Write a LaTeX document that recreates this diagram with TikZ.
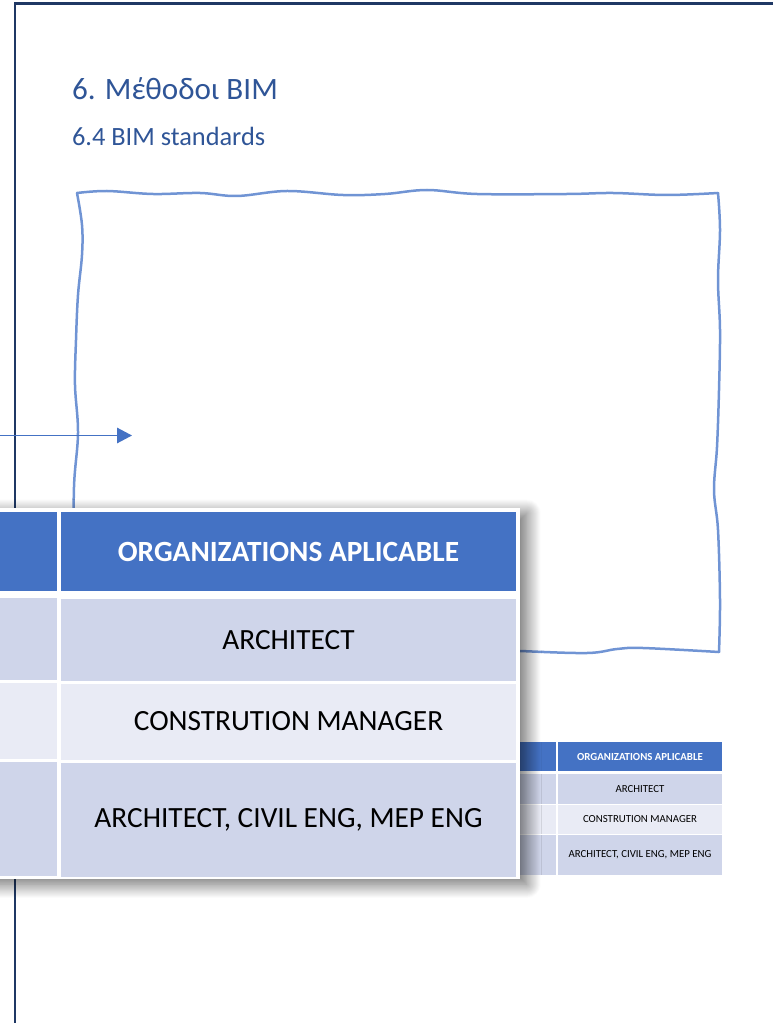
\documentclass[tikz,border=0pt]{standalone}
\usepackage{fontspec}
\setmainfont{Carlito}
\usepackage{xcolor}
\usepackage{tikz}
\usetikzlibrary{arrows.meta,shadows.blur}

\definecolor{framenavy}{RGB}{31,56,100}
\definecolor{titleblue}{RGB}{47,85,151}
\definecolor{sketchblue}{RGB}{112,148,212}
\definecolor{headblue}{RGB}{68,114,196}
\definecolor{rowdark}{RGB}{207,213,234}
\definecolor{rowlight}{RGB}{233,235,245}

\newcommand{\bigtxt}{\fontsize{16.7pt}{19pt}\selectfont}
\newcommand{\smalltxt}{\fontsize{6.15pt}{7pt}\selectfont}

\begin{document}
\begin{tikzpicture}[x=0.02cm, y=-0.02cm, every node/.style={inner sep=0pt, outer sep=0pt},
    sketchline/.style={draw=sketchblue, line width=0.05cm, line cap=round, line join=round},
    bigcell/.style={minimum width=9.1cm, font=\bigtxt, text=black},
    bigside/.style={minimum width=3.54cm},
    smallcell/.style={minimum width=3.28cm, font=\smalltxt, text=black},
    smallside/.style={minimum width=1.71cm},
    headcell/.style={fill=headblue, text=white}]

\useasboundingbox (0,0) rectangle (773,1023);
\clip (0,0) rectangle (773,1023);

% Page frame
\coordinate (framebot) at (15,1035);
\coordinate (framecorner) at (15,3.3);
\coordinate (frameright) at (790,3.3);
\draw[framenavy, line width=1.7pt] (framebot) -- (framecorner) -- (frameright);

% Title
\node[anchor=base west, text=titleblue, font=\fontsize{17.7pt}{20pt}\selectfont] (title) at (72,100) {6. Μέθοδοι BIM};
\node[anchor=base west, text=titleblue, font=\fontsize{15pt}{17pt}\selectfont] (subtitle) at (72,146) {6.4 BIM standards};

% Hand drawn frame
\draw[sketchline] plot[smooth, tension=0.6] coordinates {(77,193) (107,191) (153,194) (200,193) (237,196) (287,191) (343,195) (385,194) (427,190) (477,194) (567,194) (613,193) (667,195) (718,193)};
\draw[sketchline] plot[smooth, tension=0.6] coordinates {(718,193) (720,230) (718,280) (720,330) (719,390) (717,447) (714,490) (718,530) (720,600) (719,652)};
\draw[sketchline] plot[smooth, tension=0.6] coordinates {(719,652) (643,648) (617,649) (587,653) (520,651) (460,648) (400,651) (330,649) (260,652) (190,648) (130,651) (76,650)};
\draw[sketchline] plot[smooth, tension=0.6] coordinates {(76,650) (74,560) (74,487) (78,433) (75,385) (76,340) (78,295) (82,255) (82,225) (77,193)};

% Arrow
\coordinate (arrowfrom) at (-5,435.5);
\coordinate (arrowto) at (132,435.5);
\draw[-{Triangle[length=0.3cm, width=0.31cm]}, headblue, line width=0.8pt] (arrowfrom) -- (arrowto);

% Small table (behind)
\node[smallside, headcell, minimum height=0.58cm] (smallheadl) at (512.75,756.5) {};
\node[smallside, fill=rowdark, minimum height=0.6cm] (smallrowal) at (512.75,789) {};
\node[smallside, fill=rowlight, minimum height=0.58cm] (smallrowbl) at (512.75,819.5) {};
\node[smallside, fill=rowdark, minimum height=0.8cm] (smallrowcl) at (512.75,855) {};
\node[smallcell, headcell, minimum height=0.58cm] (smallhead) at (640,756.5) {\textbf{ORGANIZATIONS APLICABLE}};
\node[smallcell, fill=rowdark, minimum height=0.6cm] (smallrowa) at (640,789) {ARCHITECT};
\node[smallcell, fill=rowlight, minimum height=0.58cm] (smallrowb) at (640,819.5) {CONSTRUTION MANAGER};
\node[smallcell, fill=rowdark, minimum height=0.8cm] (smallrowc) at (640,855) {ARCHITECT, CIVIL ENG, MEP ENG};

% Big table (zoomed)
\node[fill=white, minimum width=13.4cm, minimum height=7.42cm, blur shadow={shadow xshift=4pt, shadow yshift=-3pt, shadow blur radius=8pt, shadow blur steps=30, shadow opacity=60}] (bigframe) at (185,693.5) {};
\node[bigside, headcell, minimum height=1.58cm] (bigheadl) at (-31.5,551.5) {};
\node[bigside, fill=rowdark, minimum height=1.64cm] (bigrowal) at (-31.5,639) {};
\node[bigside, fill=rowlight, minimum height=1.52cm] (bigrowbl) at (-31.5,721) {};
\node[bigside, fill=rowdark, minimum height=2.28cm] (bigrowcl) at (-31.5,819) {};
\node[bigcell, headcell, minimum height=1.58cm] (bighead) at (288.5,551.5) {\textbf{ORGANIZATIONS APLICABLE}};
\node[bigcell, fill=rowdark, minimum height=1.64cm] (bigrowa) at (288.5,640) {ARCHITECT};
\node[bigcell, fill=rowlight, minimum height=1.52cm] (bigrowb) at (288.5,721.5) {CONSTRUTION MANAGER};
\node[bigcell, fill=rowdark, minimum height=2.28cm] (bigrowc) at (288.5,820) {ARCHITECT, CIVIL ENG, MEP ENG};

\end{tikzpicture}
\end{document}
